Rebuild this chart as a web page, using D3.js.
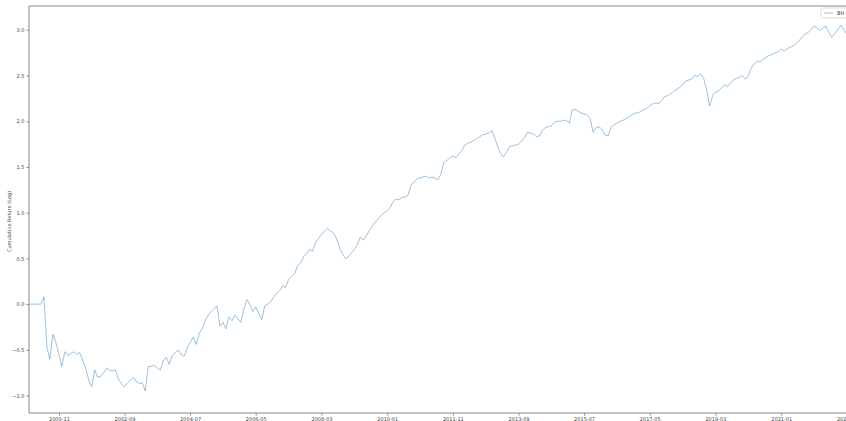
<!DOCTYPE html>
<html><head><meta charset="utf-8">
<script src="https://cdn.jsdelivr.net/npm/d3@7"></script>
<style>html,body{margin:0;padding:0;background:#fff;overflow:hidden}svg{display:block}</style>
</head><body>
<svg id="chart" width="846" height="421"></svg>
<script>
// Monthly cumulative log return, starting 2000-01
const startMonth = "2000-01";
const values = [
  // 2000
  0, 0, 0, 0, 0, 0.08, -0.47, -0.6, -0.33, -0.42, -0.55, -0.68,
  // 2001
  -0.52, -0.56, -0.54, -0.52, -0.55, -0.53, -0.61, -0.7, -0.83, -0.9, -0.72, -0.8,
  // 2002
  -0.79, -0.75, -0.7, -0.72, -0.73, -0.72, -0.82, -0.87, -0.9, -0.86, -0.83, -0.8,
  // 2003
  -0.85, -0.87, -0.86, -0.95, -0.68, -0.68, -0.67, -0.7, -0.72, -0.62, -0.58, -0.66,
  // 2004
  -0.56, -0.53, -0.5, -0.55, -0.57, -0.48, -0.42, -0.36, -0.44, -0.32, -0.27, -0.18,
  // 2005
  -0.12, -0.08, -0.05, -0.02, -0.24, -0.2, -0.27, -0.14, -0.18, -0.12, -0.16, -0.2,
  // 2006
  -0.05, 0.05, 0.0, -0.08, -0.03, -0.1, -0.17, -0.02, 0.0, 0.03, 0.08, 0.12,
  // 2007
  0.15, 0.2, 0.18, 0.27, 0.3, 0.33, 0.42, 0.45, 0.52, 0.55, 0.6, 0.58,
  // 2008
  0.67, 0.72, 0.76, 0.8, 0.83, 0.8, 0.78, 0.72, 0.62, 0.55, 0.5, 0.52,
  // 2009
  0.56, 0.6, 0.65, 0.73, 0.7, 0.75, 0.8, 0.85, 0.9, 0.93, 0.97, 1.0,
  // 2010
  1.02, 1.06, 1.12, 1.15, 1.14, 1.17, 1.17, 1.19, 1.3, 1.34, 1.37, 1.38,
  // 2011
  1.39, 1.4, 1.38, 1.39, 1.38, 1.36, 1.42, 1.55, 1.57, 1.6, 1.62, 1.6,
  // 2012
  1.64, 1.68, 1.74, 1.76, 1.77, 1.79, 1.81, 1.83, 1.85, 1.86, 1.87, 1.9,
  // 2013
  1.82, 1.72, 1.65, 1.61, 1.66, 1.72, 1.73, 1.74, 1.75, 1.78, 1.82, 1.88,
  // 2014
  1.87, 1.86, 1.83, 1.84, 1.9, 1.93, 1.94, 1.95, 1.99, 2.0, 2.0, 2.01,
  // 2015
  2.01, 1.98, 2.12, 2.13, 2.11, 2.09, 2.08, 2.07, 2.03, 1.88, 1.93, 1.94,
  // 2016
  1.91, 1.85, 1.84, 1.93, 1.96, 1.98, 2.0, 2.01, 2.03, 2.05, 2.07, 2.09,
  // 2017
  2.09, 2.11, 2.13, 2.14, 2.17, 2.19, 2.2, 2.19, 2.23, 2.27, 2.28, 2.3,
  // 2018
  2.33, 2.35, 2.37, 2.4, 2.44, 2.45, 2.46, 2.5, 2.49, 2.52, 2.47, 2.35,
  // 2019
  2.17, 2.28, 2.32, 2.33, 2.36, 2.4, 2.38, 2.42, 2.45, 2.47, 2.48, 2.5,
  // 2020
  2.46, 2.5, 2.58, 2.63, 2.66, 2.65, 2.68, 2.7, 2.72, 2.73, 2.75, 2.76,
  // 2021
  2.79, 2.77, 2.79, 2.81, 2.82, 2.85, 2.88, 2.92, 2.95, 2.97, 3.0, 3.04,
  // 2022
  3.02, 2.99, 3.02, 3.04, 2.97, 2.92, 2.96, 3.0, 3.05, 3.0, 2.95
];
const xTickLabels = ["2000-11","2002-09","2004-07","2006-05","2008-03","2010-01",
  "2011-11","2013-09","2015-07","2017-05","2019-03","2021-01","2022-11"];
const yTicks = [-1.0, -0.5, 0.0, 0.5, 1.0, 1.5, 2.0, 2.5, 3.0];
const seriesName = "BH";
const yLabel = "Cumulative Return (Log)";

(function () {
const parse = d3.timeParse("%Y-%m");
const start = parse(startMonth);
const data = values.map((v, i) => ({ date: d3.timeMonth.offset(start, i), value: v }));

const svg = d3.select("#chart");
const mLeft = 29, mTop = 6, mBottom = 413;
const x = d3.scaleTime()
  .domain([parse("2000-01"), parse("2023-01")])
  .range([mLeft, mLeft + 2.985 * 276]);
const y = d3.scaleLinear().domain([-1.19, 3.26]).range([mBottom, mTop]);

const textColor = "#444";
const spineColor = "#888";

svg.append("path").datum(data)
  .attr("fill", "none")
  .attr("stroke", "#1f77b4")
  .attr("stroke-width", 0.6)
  .attr("stroke-opacity", 0.75)
  .attr("d", d3.line().x(d => x(d.date)).y(d => y(d.value)));

svg.append("line").attr("x1", mLeft).attr("x2", mLeft).attr("y1", mTop).attr("y2", mBottom)
  .attr("stroke", spineColor).attr("stroke-width", 1);
svg.append("line").attr("x1", mLeft).attr("x2", 846).attr("y1", mTop).attr("y2", mTop)
  .attr("stroke", spineColor).attr("stroke-width", 1);
svg.append("line").attr("x1", mLeft).attr("x2", 846).attr("y1", mBottom).attr("y2", mBottom)
  .attr("stroke", spineColor).attr("stroke-width", 1);

const yAxis = d3.axisLeft(y).tickValues(yTicks).tickFormat(d3.format(".1f")).tickSize(2.5).tickPadding(2);
const gy = svg.append("g").attr("transform", `translate(${mLeft},0)`).call(yAxis);
gy.select(".domain").remove();
gy.selectAll("line").attr("stroke", spineColor);
gy.selectAll("text").attr("font-family", "DejaVu Sans").attr("font-size", 5).attr("fill", textColor);

const xTickDates = xTickLabels.map(parse);
const xAxis = d3.axisBottom(x).tickValues(xTickDates).tickFormat(d3.timeFormat("%Y-%m")).tickSize(2.5).tickPadding(1.5);
const gx = svg.append("g").attr("transform", `translate(0,${mBottom})`).call(xAxis);
gx.select(".domain").remove();
gx.selectAll("line").attr("stroke", spineColor);
gx.selectAll("text").attr("font-family", "DejaVu Sans").attr("font-size", 5).attr("fill", textColor);

svg.append("text")
  .attr("transform", `translate(11,${(mTop + mBottom) / 2 + 12}) rotate(-90)`)
  .attr("text-anchor", "middle")
  .attr("font-family", "DejaVu Sans").attr("font-size", 5).attr("fill", textColor)
  .text(yLabel);

const lg = svg.append("g").attr("transform", "translate(821,8)");
lg.append("rect").attr("x", 0).attr("y", 0).attr("width", 32).attr("height", 10).attr("rx", 1.5)
  .attr("fill", "#fff").attr("stroke", "#ccc").attr("stroke-width", 0.7);
lg.append("line").attr("x1", 3).attr("x2", 12).attr("y1", 5).attr("y2", 5)
  .attr("stroke", "#1f77b4").attr("stroke-width", 0.6).attr("stroke-opacity", 0.75);
lg.append("text").attr("x", 16).attr("y", 6.8)
  .attr("font-family", "DejaVu Sans").attr("font-size", 5).attr("fill", textColor)
  .text(seriesName);
})();
</script>
</body></html>
